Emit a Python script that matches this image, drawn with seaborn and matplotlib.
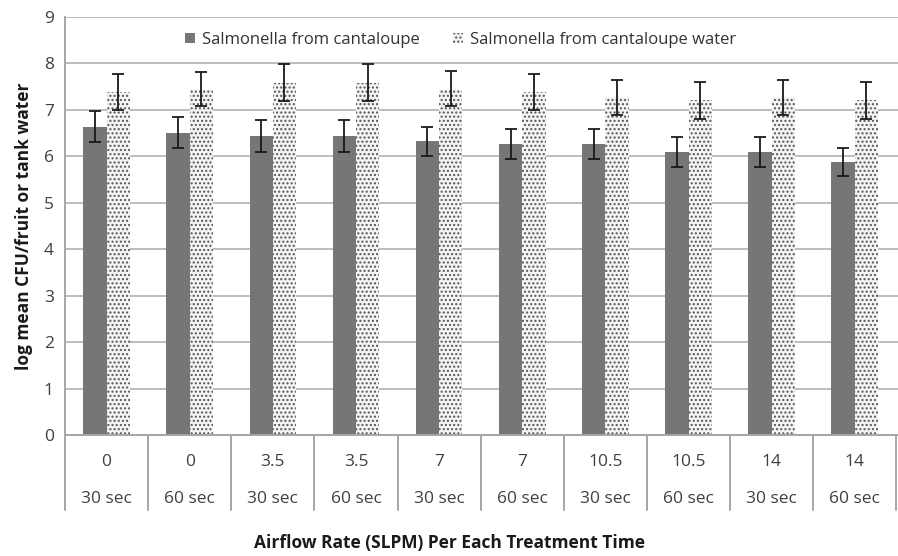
import matplotlib
matplotlib.use("Agg")
import matplotlib.pyplot as plt
import matplotlib.transforms as mtransforms
from matplotlib.patches import Patch
import numpy as np
import pandas as pd
import seaborn as sns

# Airflow rate (SLPM) and treatment time for each group
airflow = ["0", "0", "3.5", "3.5", "7", "7", "10.5", "10.5", "14", "14"]
treat_time = ["30 sec", "60 sec"] * 5

# log mean CFU and error (standard deviation)
fruit_mean = [6.64, 6.51, 6.44, 6.44, 6.32, 6.27, 6.27, 6.09, 6.09, 5.87]
fruit_err = [0.34, 0.34, 0.34, 0.34, 0.32, 0.32, 0.32, 0.33, 0.33, 0.30]
water_mean = [7.39, 7.45, 7.59, 7.59, 7.46, 7.39, 7.27, 7.21, 7.27, 7.21]
water_err = [0.39, 0.36, 0.40, 0.40, 0.38, 0.39, 0.37, 0.40, 0.37, 0.40]

series = ["Salmonella from cantaloupe", "Salmonella from cantaloupe water"]

groups = [f"{a}|{t}" for a, t in zip(airflow, treat_time)]
df = pd.DataFrame({
    "group": groups * 2,
    "series": [series[0]] * len(groups) + [series[1]] * len(groups),
    "value": fruit_mean + water_mean,
    "err": fruit_err + water_err,
})

sns.set_theme(style="white")
plt.rcParams["font.family"] = ["Open Sans", "DejaVu Sans"]
plt.rcParams["hatch.linewidth"] = 1.0

fig = plt.figure(figsize=(8.98, 5.56), dpi=100)
ax = fig.add_axes([0.0724, 0.2176, 0.9276, 0.7518])

dark = "#767676"
dot_col = "#555555"
sns.barplot(data=df, x="group", y="value", hue="series", order=groups,
            hue_order=series, palette=[dark, "#f4f4f4"], width=0.56,
            errorbar=None, ax=ax, legend=False, linewidth=0, saturation=1)

# dotted fill for the water series, error bars for both series
n = len(groups)
patches = list(ax.patches)[:2 * n]
for i, p in enumerate(patches):
    s = i // n
    if s == 1:
        p.set_hatch("....")
        p.set_edgecolor(dot_col)
        p.set_linewidth(0)
    errs = fruit_err if s == 0 else water_err
    means = fruit_mean if s == 0 else water_mean
    k = i % n
    xc = p.get_x() + p.get_width() / 2
    ax.errorbar(xc, means[k], yerr=errs[k], fmt="none", ecolor="#1a1a1a",
                elinewidth=1.3, capsize=4, capthick=1.3, zorder=5)

ax.set_ylim(0, 9)
ax.set_xlim(-0.5, n - 0.5 + 0.02)
ax.set_yticks(range(0, 10))
ax.tick_params(axis="y", labelsize=12.5, colors="#404040", length=0, pad=8)
ax.yaxis.grid(True, color="#bdbdbd", linewidth=1.4)
ax.set_axisbelow(True)
for side in ["top", "right"]:
    ax.spines[side].set_visible(False)
ax.spines["left"].set_color("#a6a6a6")
ax.spines["left"].set_linewidth(1.4)
ax.spines["bottom"].set_color("#a6a6a6")
ax.spines["bottom"].set_linewidth(1.4)

# two-row category labels with box separators
ax.set_xticks(range(n))
ax.set_xticklabels([])
ax.tick_params(axis="x", length=0)
trans = mtransforms.blended_transform_factory(ax.transData, ax.transAxes)
for i in range(n):
    ax.text(i, -0.065, airflow[i], transform=trans, ha="center", va="center",
            fontsize=12.5, color="#404040")
    ax.text(i, -0.152, treat_time[i], transform=trans, ha="center", va="center",
            fontsize=12.5, color="#404040")
for b in range(n + 1):
    ax.plot([b - 0.5, b - 0.5], [0, -0.18], transform=trans, color="#a6a6a6",
            linewidth=1.4, clip_on=False)

ax.set_xlabel("")
ax.set_ylabel("log mean CFU/fruit or tank water", fontsize=12.5,
              fontweight="bold", color="#1a1a1a", labelpad=8)
fig.text(0.5, 0.023, "Airflow Rate (SLPM) Per Each Treatment Time",
         ha="center", va="center", fontsize=12.5, fontweight="bold",
         color="#1a1a1a")

handles = [Patch(facecolor=dark, edgecolor=dark, linewidth=0),
           Patch(facecolor="#f4f4f4", edgecolor=dot_col, hatch="....",
                 linewidth=0)]
ax.legend(handles, series, loc="upper center", bbox_to_anchor=(0.475, 1.0),
          ncol=2, frameon=False, fontsize=12, handlelength=0.6,
          handleheight=0.6, handletextpad=0.4, columnspacing=2.0,
          labelcolor="#333333")

fig.savefig("out.png", dpi=100)
